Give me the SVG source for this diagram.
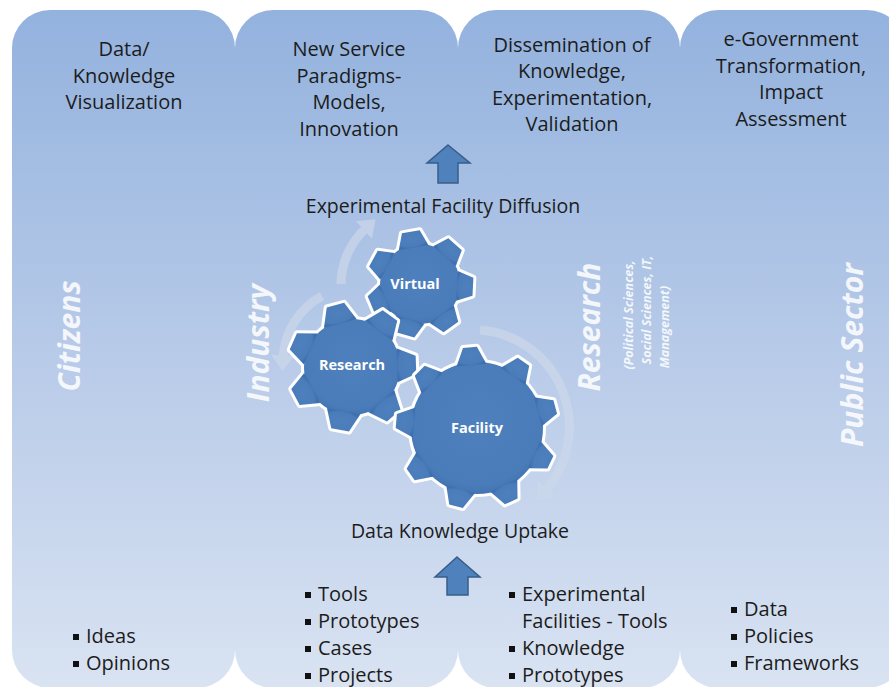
<svg xmlns="http://www.w3.org/2000/svg" xmlns:xlink="http://www.w3.org/1999/xlink" width="889" height="687" viewBox="0 0 889 687">
  <style>
    .lbl { font-family: "Open Sans", "Liberation Sans", sans-serif; font-size: 20px; fill: #1c1c1c; text-anchor: middle; }
    .mid { font-family: "Open Sans", "Liberation Sans", sans-serif; font-size: 19.5px; fill: #1c1c1c; text-anchor: middle; }
    .bul { font-family: "Open Sans", "Liberation Sans", sans-serif; font-size: 20px; fill: #1c1c1c; }
    .dot { fill: #111; }
    .side { font-family: "Open Sans", "Liberation Sans", sans-serif; font-weight: bold; font-style: italic; font-size: 30px; fill: #ffffff; text-anchor: middle; opacity: 0.85; }
    .sub { font-family: "Open Sans", "Liberation Sans", sans-serif; font-weight: bold; font-style: italic; font-size: 12.5px; fill: #ffffff; text-anchor: middle; opacity: 0.85; }
    .gtxt { font-family: "Open Sans", "Liberation Sans", sans-serif; font-weight: bold; font-size: 14.5px; fill: #ffffff; text-anchor: middle; }
    .col { fill: url(#colFill); }
    .rim { stroke: #ffffff; stroke-width: 6; stroke-linejoin: round; fill: #ffffff; }
    .body { fill: url(#gearFill); stroke: none; }
    .block { fill: #4f81bd; stroke: #385d8a; stroke-width: 1.5; stroke-linejoin: miter; }
    .arc { fill: none; stroke: #cdd8ea; stroke-width: 9; opacity: 0.7; }
  </style>
  <defs>
    <linearGradient id="colFill" x1="0" y1="0" x2="0" y2="1">
      <stop offset="0" stop-color="#93b2de"/>
      <stop offset="0.5" stop-color="#b7cae8"/>
      <stop offset="1" stop-color="#d9e3f2"/>
    </linearGradient>
    <radialGradient id="gearFill" cx="0.5" cy="0.45" r="0.6">
      <stop offset="0" stop-color="#4d80bd"/>
      <stop offset="0.8" stop-color="#4a7cba"/>
      <stop offset="1" stop-color="#3f6fae"/>
    </radialGradient>
    <marker id="arcHead" markerUnits="userSpaceOnUse" markerWidth="24" markerHeight="24" refX="3" refY="12" orient="auto">
      <path d="M0,0 L16,12 L0,24 Z" fill="#cdd8ea"/>
    </marker>

    <!-- gear outlines: body disc plus trapezoid teeth -->
    <g id="shapeVirtual">
      <circle r="40"/>
      <polygon points="-15,-37 15,-37 9,-53 -9,-53" transform="rotate(-10)"/>
      <polygon points="-15,-37 15,-37 9,-53 -9,-53" transform="rotate(41.4)"/>
      <polygon points="-15,-37 15,-37 9,-53 -9,-53" transform="rotate(92.9)"/>
      <polygon points="-15,-37 15,-37 9,-53 -9,-53" transform="rotate(144.3)"/>
      <polygon points="-15,-37 15,-37 9,-53 -9,-53" transform="rotate(195.7)"/>
      <polygon points="-15,-37 15,-37 9,-53 -9,-53" transform="rotate(247.1)"/>
      <polygon points="-15,-37 15,-37 9,-53 -9,-53" transform="rotate(298.6)"/>
    </g>
    <g id="shapeResearch">
      <circle r="48"/>
      <polygon points="-17,-45 17,-45 9,-64 -9,-64" transform="rotate(-15)"/>
      <polygon points="-17,-45 17,-45 9,-64 -9,-64" transform="rotate(36.4)"/>
      <polygon points="-17,-45 17,-45 9,-64 -9,-64" transform="rotate(87.9)"/>
      <polygon points="-17,-45 17,-45 9,-64 -9,-64" transform="rotate(139.3)"/>
      <polygon points="-17,-45 17,-45 9,-64 -9,-64" transform="rotate(190.7)"/>
      <polygon points="-17,-45 17,-45 9,-64 -9,-64" transform="rotate(242.1)"/>
      <polygon points="-17,-45 17,-45 9,-64 -9,-64" transform="rotate(293.6)"/>
    </g>
    <g id="shapeFacility">
      <circle r="66"/>
      <polygon points="-15,-63 15,-63 7,-81 -7,-81" transform="rotate(-5)"/>
      <polygon points="-15,-63 15,-63 7,-81 -7,-81" transform="rotate(35)"/>
      <polygon points="-15,-63 15,-63 7,-81 -7,-81" transform="rotate(75)"/>
      <polygon points="-15,-63 15,-63 7,-81 -7,-81" transform="rotate(115)"/>
      <polygon points="-15,-63 15,-63 7,-81 -7,-81" transform="rotate(155)"/>
      <polygon points="-15,-63 15,-63 7,-81 -7,-81" transform="rotate(195)"/>
      <polygon points="-15,-63 15,-63 7,-81 -7,-81" transform="rotate(235)"/>
      <polygon points="-15,-63 15,-63 7,-81 -7,-81" transform="rotate(275)"/>
      <polygon points="-15,-63 15,-63 7,-81 -7,-81" transform="rotate(315)"/>
    </g>
  </defs>

  <rect width="889" height="687" fill="#ffffff"/>

  <!-- four stakeholder columns -->
  <g id="columns">
    <rect class="col" x="12" y="10" width="223" height="678" rx="38" ry="38"/>
    <rect class="col" x="235" y="10" width="223" height="678" rx="38" ry="38"/>
    <rect class="col" x="458" y="10" width="222" height="678" rx="38" ry="38"/>
    <rect class="col" x="680" y="10" width="225" height="678" rx="38" ry="38"/>
  </g>

  <!-- column headings -->
  <g id="head-citizens">
    <text class="lbl" x="124" y="56">Data/</text>
    <text class="lbl" x="124" y="82.5">Knowledge</text>
    <text class="lbl" x="124" y="109">Visualization</text>
  </g>
  <g id="head-industry">
    <text class="lbl" x="349" y="56">New Service</text>
    <text class="lbl" x="349" y="82.5">Paradigms-</text>
    <text class="lbl" x="349" y="109">Models,</text>
    <text class="lbl" x="349" y="135.5">Innovation</text>
  </g>
  <g id="head-research">
    <text class="lbl" x="572" y="51.5">Dissemination of</text>
    <text class="lbl" x="572" y="78">Knowledge,</text>
    <text class="lbl" x="572" y="104.5">Experimentation,</text>
    <text class="lbl" x="572" y="131">Validation</text>
  </g>
  <g id="head-public">
    <text class="lbl" x="791" y="46">e-Government</text>
    <text class="lbl" x="791" y="72.5">Transformation,</text>
    <text class="lbl" x="791" y="99">Impact</text>
    <text class="lbl" x="791" y="125.5">Assessment</text>
  </g>

  <!-- vertical column titles -->
  <g id="title-citizens"><text class="side" transform="translate(69,336) rotate(-90)" dy="0.36em">Citizens</text></g>
  <g id="title-industry"><text class="side" transform="translate(258,343) rotate(-90)" dy="0.36em">Industry</text></g>
  <g id="title-research">
    <text class="side" transform="translate(589,327) rotate(-90)" dy="0.36em">Research</text>
    <text class="sub" transform="translate(628,315) rotate(-90)" dy="0.36em">(Political Sciences,</text>
    <text class="sub" transform="translate(646,310) rotate(-90)" dy="0.36em">Social Sciences, IT,</text>
    <text class="sub" transform="translate(664,327) rotate(-90)" dy="0.36em">Management)</text>
  </g>
  <g id="title-public"><text class="side" transform="translate(852,355) rotate(-90)" dy="0.36em">Public Sector</text></g>

  <!-- connectors: rotation arcs and flow arrows -->
  <g id="connectors">
    <path class="arc" d="M341,284 A78,78 0 0 1 366,228" marker-end="url(#arcHead)"/>
    <path class="arc" d="M322,296 A75,75 0 0 0 283,358" marker-end="url(#arcHead)"/>
    <path class="arc" d="M480,330 A97,97 0 0 1 545,491" marker-end="url(#arcHead)"/>
    <polygon class="block" points="448,145 470,163 458,163 458,183 438,183 438,163 427,163"/>
    <polygon class="block" points="457,557 480,577 468,577 468,595 447,595 447,577 435,577"/>
  </g>

  <text class="mid" x="443" y="213">Experimental Facility Diffusion</text>
  <text class="mid" x="460" y="538">Data Knowledge Uptake</text>

  <!-- gears -->
  <g id="gear-virtual" transform="translate(420,284)">
    <use xlink:href="#shapeVirtual" class="rim"/>
    <use xlink:href="#shapeVirtual" class="body"/>
    <text class="gtxt" x="-5" y="0" dy="0.35em">Virtual</text>
  </g>
  <g id="gear-research" transform="translate(352,367)">
    <use xlink:href="#shapeResearch" class="rim"/>
    <use xlink:href="#shapeResearch" class="body"/>
    <text class="gtxt" x="0" y="-2" dy="0.35em">Research</text>
  </g>
  <g id="gear-facility" transform="translate(477,428)">
    <use xlink:href="#shapeFacility" class="rim"/>
    <use xlink:href="#shapeFacility" class="body"/>
    <text class="gtxt" x="0" y="0" dy="0.35em">Facility</text>
  </g>

  <!-- bullet lists -->
  <g id="list-citizens">
    <rect class="dot" x="73" y="634" width="6" height="6"/><text class="bul" x="86" y="643">Ideas</text>
    <rect class="dot" x="73" y="661" width="6" height="6"/><text class="bul" x="86" y="670">Opinions</text>
  </g>
  <g id="list-industry">
    <rect class="dot" x="305" y="592" width="6" height="6"/><text class="bul" x="318" y="601">Tools</text>
    <rect class="dot" x="305" y="619" width="6" height="6"/><text class="bul" x="318" y="628">Prototypes</text>
    <rect class="dot" x="305" y="646" width="6" height="6"/><text class="bul" x="318" y="655">Cases</text>
    <rect class="dot" x="305" y="673" width="6" height="6"/><text class="bul" x="318" y="682">Projects</text>
  </g>
  <g id="list-research">
    <rect class="dot" x="509" y="592" width="6" height="6"/><text class="bul" x="522" y="601">Experimental</text>
    <text class="bul" x="522" y="628">Facilities - Tools</text>
    <rect class="dot" x="509" y="646" width="6" height="6"/><text class="bul" x="522" y="655">Knowledge</text>
    <rect class="dot" x="509" y="673" width="6" height="6"/><text class="bul" x="522" y="682">Prototypes</text>
  </g>
  <g id="list-public">
    <rect class="dot" x="731" y="607" width="6" height="6"/><text class="bul" x="744" y="616">Data</text>
    <rect class="dot" x="731" y="634" width="6" height="6"/><text class="bul" x="744" y="643">Policies</text>
    <rect class="dot" x="731" y="661" width="6" height="6"/><text class="bul" x="744" y="670">Frameworks</text>
  </g>
</svg>
